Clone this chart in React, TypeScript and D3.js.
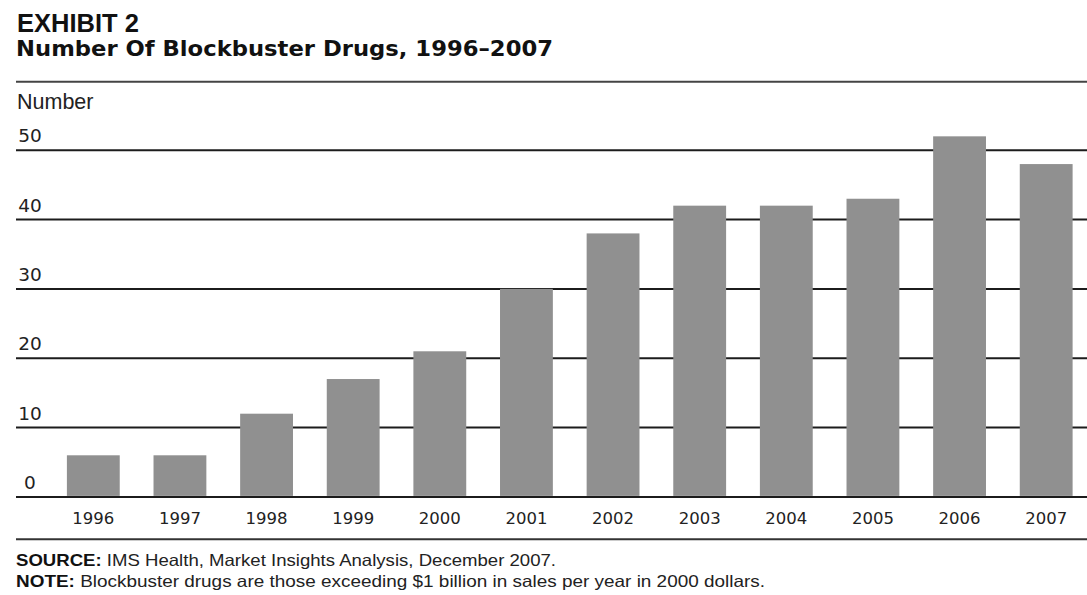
import React from "react";
import * as d3 from "d3";

const years = ["1996", "1997", "1998", "1999", "2000", "2001", "2002", "2003", "2004", "2005", "2006", "2007"];
const counts = [6, 6, 12, 17, 21, 30, 38, 42, 42, 43, 52, 48];
const yTicks = [0, 10, 20, 30, 40, 50];

const exhibit = "EXHIBIT 2";
const title = "Number Of Blockbuster Drugs, 1996\u20132007";
const unitLabel = "Number";
const sourceLead = "SOURCE:";
const sourceText = " IMS Health, Market Insights Analysis, December 2007.";
const noteLead = "NOTE:";
const noteText = " Blockbuster drugs are those exceeding $1 billion in sales per year in 2000 dollars.";

const W = 1087;
const H = 595;
const LEFT = 16;
const FONT = "'Liberation Sans', Arial, sans-serif";
const DIGIT_FONT = "'DejaVu Sans', sans-serif";

export default function App() {
  const x = d3
    .scaleBand<string>()
    .domain(years)
    .range([50, 1089.5])
    .paddingInner(0.39)
    .paddingOuter(0.195);

  const y = d3.scaleLinear().domain([0, 50]).range([496.9, 150.2]);

  return (
    <svg
      width={W}
      height={H}
      viewBox={`0 0 ${W} ${H}`}
      style={{ position: "absolute", left: 0, top: 0, background: "#fff" }}
      fontFamily={FONT}
    >
      <rect x={0} y={0} width={W} height={H} fill="#fff" />

      {/* heading */}
      <text x={LEFT + 1} y={31.5} fontSize={25.5} fontWeight={700} fill="#111">
        {exhibit}
      </text>
      <text
        x={LEFT}
        y={56.3}
        fontSize={21.5}
        fontWeight={700}
        fontFamily={DIGIT_FONT}
        fill="#111"
        textLength={537}
        lengthAdjust="spacingAndGlyphs"
      >
        {title}
      </text>
      <line x1={LEFT} x2={W} y1={81.7} y2={81.7} stroke="#444" strokeWidth={2} />

      <text x={LEFT + 1} y={108.5} fontSize={21.5} fill="#222">
        {unitLabel}
      </text>

      {/* gridlines with value labels */}
      {yTicks.map((t) => (
        <g key={t}>
          <line x1={LEFT} x2={W} y1={y(t)} y2={y(t)} stroke="#1c1c1c" strokeWidth={2} />
          <text
            x={30}
            y={y(t) - 8}
            fontSize={18.5}
            fontFamily={DIGIT_FONT}
            fill="#222"
            textAnchor="middle"
          >
            {t}
          </text>
        </g>
      ))}

      {/* bars */}
      {years.map((yr, i) => (
        <rect
          key={yr}
          x={x(yr)}
          y={y(counts[i])}
          width={x.bandwidth()}
          height={y(0) - y(counts[i]) - 1}
          fill="#909090"
        />
      ))}

      {/* year labels */}
      {years.map((yr) => (
        <text
          key={yr}
          x={(x(yr) as number) + x.bandwidth() / 2}
          y={524}
          fontSize={16.5}
          fontFamily={DIGIT_FONT}
          fill="#222"
          textAnchor="middle"
        >
          {yr}
        </text>
      ))}

      <line x1={LEFT} x2={W} y1={539.3} y2={539.3} stroke="#333" strokeWidth={2} />

      {/* footnotes */}
      <text x={LEFT} y={565.5} fontSize={16.5} fill="#222" textLength={540} lengthAdjust="spacingAndGlyphs">
        <tspan fontWeight={700} fill="#111">{sourceLead}</tspan>
        <tspan>{sourceText}</tspan>
      </text>
      <text x={LEFT} y={587.3} fontSize={16.5} fill="#222" textLength={749} lengthAdjust="spacingAndGlyphs">
        <tspan fontWeight={700} fill="#111">{noteLead}</tspan>
        <tspan>{noteText}</tspan>
      </text>
    </svg>
  );
}
